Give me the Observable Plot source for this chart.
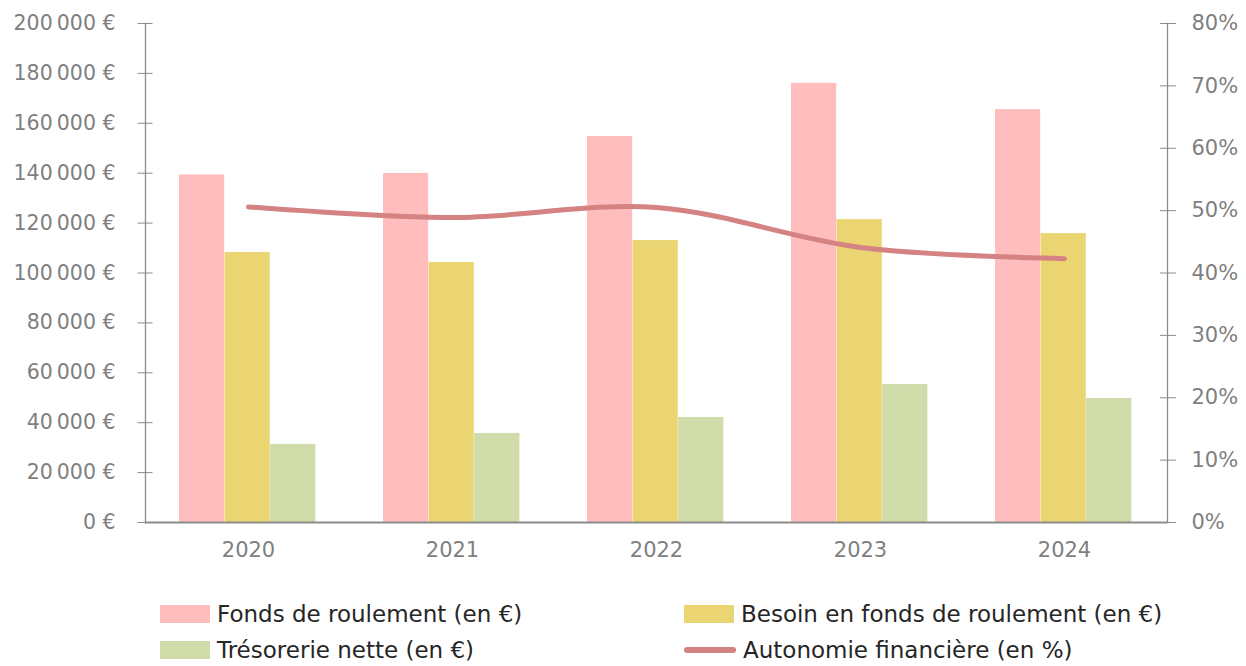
<!DOCTYPE html>
<html><head><meta charset="utf-8">
<script src="https://cdn.jsdelivr.net/npm/d3@7"></script>
<script src="https://cdn.jsdelivr.net/npm/@observablehq/plot@0.6"></script>
<style>
body{margin:0;background:#fff;font-family:"DejaVu Sans",sans-serif;}
#legend{display:grid;grid-template-columns:524px 520px;padding-left:160px;margin-top:21px;font-size:23px;color:#262626;}
.item{display:flex;align-items:center;height:36px;white-space:nowrap;}
.sw{width:50px;height:18px;margin-right:7px;}
.ln{width:52px;height:6px;border-radius:3px;margin-right:7px;}
</style></head>
<body><div id="chart"></div><div id="legend"></div>
<script>
const years = ["2020","2021","2022","2023","2024"];
const fondsRoulement = [139300, 139900, 154700, 176000, 165500];
const besoinFonds = [108200, 104200, 113000, 121400, 115800];
const tresorerie = [31300, 35700, 42100, 55300, 49700];
const autonomie = [50.6, 48.9, 50.5, 44.1, 42.3];
const leftTicks = [0,20000,40000,60000,80000,100000,120000,140000,160000,180000,200000];
const rightTicks = [0,10,20,30,40,50,60,70,80];
const seriesNames = ["Fonds de roulement (en €)","Besoin en fonds de roulement (en €)","Trésorerie nette (en €)","Autonomie financière (en %)"];
const colors = ["#ffbdbd","#ebd573","#cfdcaa","#d48282"];

const W = 1246, H = 575, mL = 145, mR = 79, mT = 23, mB = 53;
const band = (W - mL - mR) / years.length;
const bw = 45.6;
const inset = (band - bw) / 2;
const PCT = 200000 / 80;

const rows = years.map((y, i) => ({year: y, f: fondsRoulement[i], b: besoinFonds[i], t: tresorerie[i], p: autonomie[i]}));
const fmt = v => d3.format(",")(v).replace(/,/g, "\u202f") + "\u00a0€";
const grey = "#7f7f7f";

const chart = Plot.plot({
  width: W, height: H,
  marginLeft: mL, marginRight: mR, marginTop: mT, marginBottom: mB,
  style: {fontFamily: "DejaVu Sans, sans-serif", fontSize: "20px", color: grey, background: "#fff"},
  x: {type: "band", domain: years, padding: 0, label: null},
  y: {domain: [0, 200000], label: null},
  marks: [
    Plot.barY(rows, {x: "year", y: "f", fill: colors[0], insetLeft: inset, insetRight: inset, dx: -bw - 0.8}),
    Plot.barY(rows, {x: "year", y: "b", fill: colors[1], insetLeft: inset, insetRight: inset, dx: -0.8}),
    Plot.barY(rows, {x: "year", y: "t", fill: colors[2], insetLeft: inset, insetRight: inset, dx: bw - 0.8}),
    Plot.line(rows, {x: "year", y: d => d.p * PCT, stroke: colors[3], strokeWidth: 5, curve: "catmull-rom", strokeLinecap: "round"}),
    Plot.frame({anchor: "left", stroke: "#8c8c8c", strokeWidth: 1.3}),
    Plot.frame({anchor: "right", stroke: "#8c8c8c", strokeWidth: 1.3}),
    Plot.ruleY([0], {stroke: "#8c8c8c", strokeWidth: 1.8}),
    Plot.axisY({anchor: "left", ticks: leftTicks, tickSize: 15, dx: 7.5, tickFormat: null, text: null, stroke: "#8c8c8c"}),
    Plot.axisY({anchor: "left", ticks: leftTicks, tickSize: 0, tickPadding: 30, tickFormat: fmt, fill: grey, fontSize: 20.5}),
    Plot.axisY({anchor: "right", ticks: rightTicks.map(v => v * PCT), tickSize: 16, dx: -8, text: null, stroke: "#8c8c8c"}),
    Plot.axisY({anchor: "right", ticks: rightTicks.map(v => v * PCT), tickSize: 0, tickPadding: 24, tickFormat: v => Math.round(v / PCT) + "%", fill: grey, fontSize: 21}),
    Plot.axisX({tickSize: 0, tickPadding: 20, fill: grey, fontSize: 21})
  ]
});
document.getElementById("chart").appendChild(chart);

const leg = document.getElementById("legend");
[0, 1, 2, 3].forEach(i => {
  const it = document.createElement("div"); it.className = "item";
  const sw = document.createElement("span");
  sw.className = i === 3 ? "ln" : "sw";
  sw.style.background = colors[i];
  const tx = document.createElement("span"); tx.textContent = seriesNames[i];
  it.appendChild(sw); it.appendChild(tx); leg.appendChild(it);
});
</script></body></html>
